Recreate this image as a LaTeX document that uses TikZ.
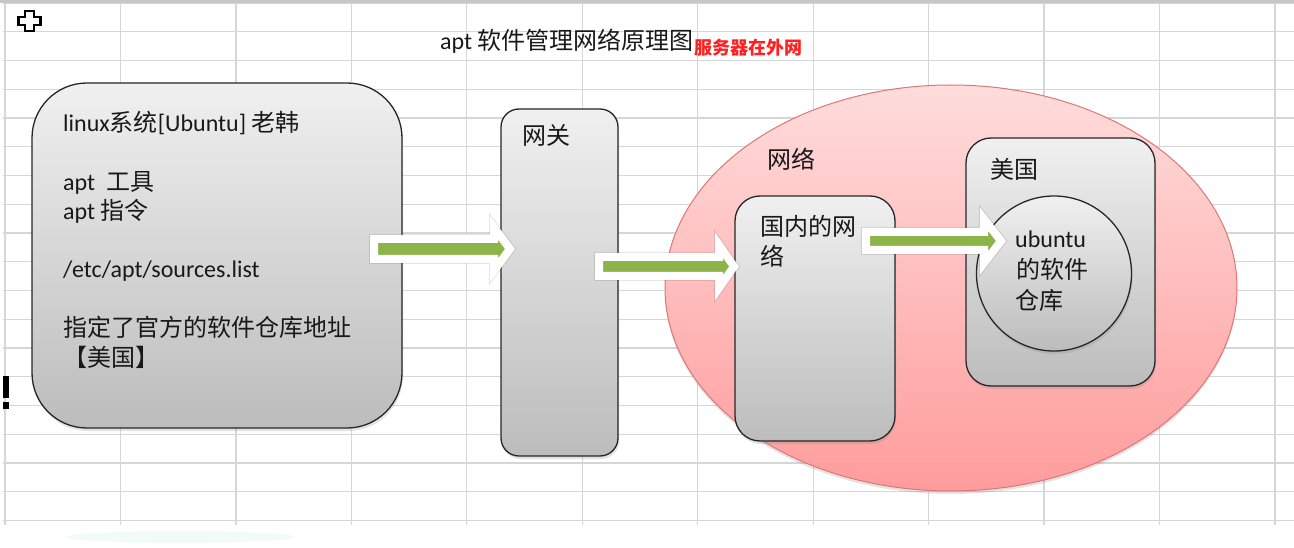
\documentclass[tikz,border=0pt]{standalone}
\usepackage{fontspec}
\setmainfont{Carlito}
\newfontfamily\zh{Noto Sans CJK SC}
\usetikzlibrary{shadows,calc,shapes.geometric}

\definecolor{gridc}{RGB}{214,214,214}
\definecolor{boxtop}{RGB}{240,240,240}
\definecolor{boxbot}{RGB}{188,188,188}
\definecolor{pinktop}{RGB}{255,220,220}
\definecolor{pinkbot}{RGB}{255,156,156}
\definecolor{pinkline}{RGB}{222,118,118}
\definecolor{agreen}{RGB}{140,180,72}
\definecolor{titlered}{RGB}{255,32,32}
\definecolor{txt}{RGB}{25,25,25}

\tikzset{
  graybox/.style={draw=black!85, line width=1.3pt, top color=boxtop, bottom color=boxbot,
    drop shadow={opacity=0.22, shadow xshift=1pt, shadow yshift=-3pt}, inner sep=0pt},
  lbl/.style={anchor=base west, inner sep=0pt, text=txt, font=\fontsize{24}{29}\selectfont},
  blockarrow/.style={draw=white, line width=8pt, fill=agreen, line join=miter, miter limit=10},
  arrowshade/.style={draw=black, draw opacity=0.10, line width=10pt, line join=miter, miter limit=10},
  gridline/.style={draw=gridc, line width=1.2pt}
}

\newcommand\barrow[5]{%
  \path[arrowshade, shift={(1pt,-2pt)}] ($(#1)+(0,-#3)$) -- ($(#2)+(-#5,-#3)$) -- ($(#2)+(-#5,-#4)$) -- (#2)
     -- ($(#2)+(-#5,#4)$) -- ($(#2)+(-#5,#3)$) -- ($(#1)+(0,#3)$) -- cycle;
  \path[blockarrow] ($(#1)+(0,-#3)$) -- ($(#2)+(-#5,-#3)$) -- ($(#2)+(-#5,-#4)$) -- (#2)
     -- ($(#2)+(-#5,#4)$) -- ($(#2)+(-#5,#3)$) -- ($(#1)+(0,#3)$) -- cycle;}

\begin{document}
\begin{tikzpicture}[x=1pt,y=-1pt]
\useasboundingbox (0,0) rectangle (1294,548);
\fill[white] (0,0) rectangle (1294,548);

% spreadsheet grid
\foreach \i in {0,...,11} \draw[gridline] ({5+115.45*\i},3) -- ({5+115.45*\i},525);
\foreach \j in {0,...,18} \draw[gridline] (3,{3+28.75*\j}) -- (1294,{3+28.75*\j});
\fill[black!22] (0,0) rectangle (1294,3);

% faint artefact at the bottom
\fill[color={rgb,255:red,242;green,251;blue,248}] (180,537) ellipse [x radius=115, y radius=6];

% top-left icon and marker
\draw[line width=2.3pt, fill=white, line join=miter]
  (25.3,11.2) -- (33.7,11.2) -- (33.7,17.2) -- (40.5,17.2) -- (40.5,24.8) -- (33.7,24.8)
  -- (33.7,30.8) -- (25.3,30.8) -- (25.3,24.8) -- (18.5,24.8) -- (18.5,17.2) -- (25.3,17.2) -- cycle;
\fill[black] (3.3,376) rectangle (8.5,398);
\fill[black] (3.3,402) rectangle (9.3,409);

% shapes
\node[graybox, rounded corners=55pt, minimum width=370pt, minimum height=345pt] (linux) at (217,255.5) {};
\node[graybox, rounded corners=18pt, minimum width=117pt, minimum height=347pt] (gw) at (559.5,282.5) {};
\node[ellipse, draw=pinkline, line width=1pt, top color=pinktop, bottom color=pinkbot,
      drop shadow={opacity=0.22, shadow xshift=0pt, shadow yshift=-3pt},
      minimum width=572pt, minimum height=406pt, inner sep=0pt] (net) at (951,288) {};
\node[graybox, rounded corners=25pt, minimum width=160pt, minimum height=245pt] (cn) at (815,318.5) {};
\node[graybox, rounded corners=25pt, minimum width=189pt, minimum height=248pt] (us) at (1060.5,262) {};
\node[graybox, circle, minimum size=155pt] (repo) at (1054,273.5) {};

% block arrows
\coordinate (a1s) at (374,249);
\coordinate (a1t) at (510,249);
\coordinate (a2s) at (599,266.5);
\coordinate (a2t) at (734,266.5);
\coordinate (a3s) at (866,241);
\coordinate (a3t) at (1001,241);
\barrow{a1s}{a1t}{10}{21.5}{16}
\barrow{a2s}{a2t}{9.5}{21.5}{15}
\barrow{a3s}{a3t}{9}{22}{17}

% texts
\node[lbl] (title) at (440,50) {apt {\zh 软件管理网络原理图}};
\node[lbl, text=titlered, font=\zh\bfseries\fontsize{18}{20}\selectfont] (red) at (694,55) {服务器在外网};

\node[lbl] (t1) at (63,132) {linux{\zh 系统}[Ubuntu] {\zh 老韩}};
\node[lbl] (t2) at (63,191) {apt\ \ {\zh 工具}};
\node[lbl] (t3) at (63,220) {apt {\zh 指令}};
\node[lbl] (t4) at (63,278) {/etc/apt/sources.list};
\node[lbl] (t5) at (63,337) {\zh 指定了官方的软件仓库地址};
\node[lbl] (t6) at (63,366) {\zh 【美国】};

\node[lbl] (gwl) at (522,145) {\zh 网关};
\node[lbl] (netl) at (767,169) {\zh 网络};
\node[lbl] (cn1) at (760,236) {\zh 国内的网};
\node[lbl] (cn2) at (760,266) {\zh 络};
\node[lbl] (usl) at (990,179) {\zh 美国};
\node[lbl] (ub1) at (1015,248) {ubuntu};
\node[lbl] (ub2) at (1016,279) {\zh 的软件};
\node[lbl] (ub3) at (1015,309) {\zh 仓库};
\end{tikzpicture}
\end{document}
